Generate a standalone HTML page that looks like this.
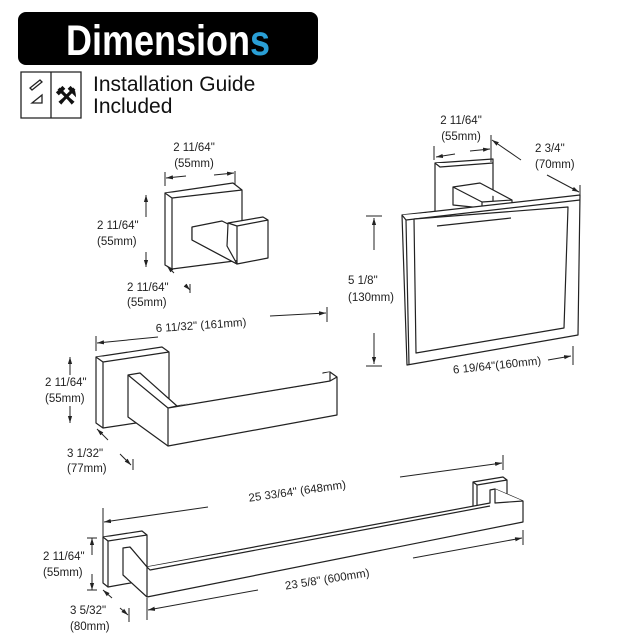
<!DOCTYPE html>
<html><head><meta charset="utf-8"><style>
html,body{margin:0;padding:0;background:#fff;}
svg{display:block;}
text{font-family:"Liberation Sans",sans-serif;font-size:11.5px;fill:#222;}
</style></head><body>
<svg width="640" height="640" viewBox="0 0 640 640" xmlns="http://www.w3.org/2000/svg">
<defs>
<marker id="a" viewBox="0 0 10 10" refX="10" refY="5" markerWidth="7" markerHeight="7" orient="auto-start-reverse"><path d="M0,2 L10,5 L0,8 z" fill="#222"/></marker>
</defs>
<!-- header -->
<rect x="18" y="12" width="300" height="53" rx="8" fill="#000"/>
<text x="168" y="55" text-anchor="middle" style="font-size:36px;font-weight:bold;fill:#fff;font-family:'Liberation Sans',sans-serif" transform="translate(168 55) scale(1.0 1.18) translate(-168 -55)">Dimension<tspan style="fill:#2a9fd6">s</tspan></text>
<!-- book icon -->
<g fill="none" stroke="#222" stroke-width="1.3">
<path d="M21,72 L51,72 L51,118 L21,118 z M51,72 L81,72 L81,118 L51,118"/>
<path d="M30,88 l10,-8 l2,2 l-10,8 z M32,103 l10,-8 l0,8 z"/>
</g>
<text x="66" y="104" text-anchor="middle" style="font-size:24px;font-weight:bold;fill:#111">⚒</text>
<text x="93" y="91" style="font-size:21px;fill:#111">Installation Guide</text>
<text x="93" y="113" style="font-size:21px;fill:#111">Included</text>

<g fill="#fff" stroke="#222" stroke-width="1.2" stroke-linejoin="round">
<!-- hook -->
<path d="M165,193 L233,183 L242,190 L242,260 L172,269 L165,265 z"/>
<path d="M165,193 L172,198 L242,190 M172,198 L172,269"/>
<path d="M192,227 L222,221 L228,224 L227,246 L237,264 L192,240 z"/>
<path d="M228,223 L263,217 L268,220 L268,258 L237,264 L237,226 z M237,226 L268,220"/>
<path d="M192,227 L192,240 L237,264"/>
<!-- toilet paper holder -->
<path d="M96,357 L162,347 L169,352 L169,418 L103,428 L96,423 z"/>
<path d="M96,357 L103,362 L169,352 M103,362 L103,428"/>
<path d="M128,375 L140,373 L177,406 L323,382 L323,373 L330,372 L337,377 L337,415 L168,446 L128,417 z"/>
<path d="M128,375 L168,408 L168,446 M168,408 L177,406 M168,408 L330,381 L330,372 M330,381 L337,377"/>
<!-- towel ring -->
<path d="M435,163 L493,159 L493,210 L435,212 z"/>
<path d="M435,163 L440,167 L493,163"/>
<path d="M453,187 L480,183 L512,200 L512,207 L482,208 L453,205 z M453,187 L482,202 L512,200 M482,202 L482,208"/>
<path d="M402,215 L580,195 L578,335 L407,365 z"/>
<path d="M402,215 L406,220 L580,200 M406,220 L409,365"/>
<path d="M414,219 L568,207 L564,328 L416,353 z"/>
<path d="M437,226 L511,218"/>
<!-- towel bar -->
<path d="M103,537 L142,531 L147,535 L147,580 L108,587 L103,583 z"/>
<path d="M103,537 L108,541 L147,535 M108,541 L108,587"/>
<path d="M473,482 L503,477 L507,480 L507,508 L477,513 L473,510 z M473,482 L477,485 L507,480 M477,485 L477,513"/>
<path d="M123,548 L130,547 L147,567 L490,503 L490,490 L495,489 L523,501 L523,522 L147,597 L123,575 z"/>
<path d="M130,547 L147,567 L147,597 M147,567 L150,570 L490,506 M495,489 L495,503 L523,501"/>
</g>

<g stroke="#222" stroke-width="1" fill="none">
<!-- hook dims -->
<path d="M165,172 L165,186 M235,171 L235,185"/>
<path d="M186,176 L166,178" marker-end="url(#a)"/><path d="M214,175 L234,173" marker-end="url(#a)"/>
<path d="M146,217 L146,195" marker-end="url(#a)"/><path d="M146,252 L146,267" marker-end="url(#a)"/>
<path d="M174,273 L167,266" marker-end="url(#a)"/><path d="M185,285 L190,290" marker-end="url(#a)"/><path d="M190,284 L190,293"/>
<!-- tp dims -->
<path d="M96,336 L96,351 M327,307 L327,322"/>
<path d="M158,337 L97,343" marker-end="url(#a)"/><path d="M270,316 L326,313" marker-end="url(#a)"/>
<path d="M70,375 L70,357" marker-end="url(#a)"/><path d="M70,406 L70,423" marker-end="url(#a)"/>
<path d="M108,440 L97,429" marker-end="url(#a)"/><path d="M120,454 L131,465" marker-end="url(#a)"/><path d="M133,459 L133,470"/>
<!-- ring dims -->
<path d="M434,146 L434,160 M491,135 L491,162"/>
<path d="M455,154 L436,157" marker-end="url(#a)"/><path d="M470,151 L490,149" marker-end="url(#a)"/>
<path d="M521,160 L492,140" marker-end="url(#a)"/><path d="M547,175 L579,192" marker-end="url(#a)"/><path d="M580,185 L580,199"/>
<path d="M366,216 L382,216 M366,366 L382,366"/>
<path d="M374,250 L374,218" marker-end="url(#a)"/><path d="M374,333 L374,364" marker-end="url(#a)"/>
<path d="M548,360 L571,356" marker-end="url(#a)"/><path d="M573,346 L573,365"/>
<!-- bar dims -->
<path d="M103,508 L103,540 M503,455 L503,470 M147,598 L147,620 M523,530 L523,545"/>
<path d="M208,507 L104,522" marker-end="url(#a)"/><path d="M400,477 L502,463" marker-end="url(#a)"/>
<path d="M258,590 L148,610" marker-end="url(#a)"/><path d="M413,558 L522,538" marker-end="url(#a)"/>
<path d="M92,555 L92,538" marker-end="url(#a)"/><path d="M92,574 L92,590" marker-end="url(#a)"/>
<path d="M87,538 L97,538 M87,590 L97,590"/>
<path d="M112,598 L103,590" marker-end="url(#a)"/><path d="M120,608 L128,615" marker-end="url(#a)"/><path d="M129,608 L129,622"/>
</g>

<!-- labels -->
<text x="194" y="151" text-anchor="middle">2 11/64"</text>
<text x="194" y="167" text-anchor="middle">(55mm)</text>
<text x="97" y="229">2 11/64"</text>
<text x="97" y="245">(55mm)</text>
<text x="127" y="291">2 11/64"</text>
<text x="127" y="306">(55mm)</text>
<text x="201" y="329" text-anchor="middle" transform="rotate(-4 201 325)">6 11/32" (161mm)</text>
<text x="45" y="386">2 11/64"</text>
<text x="45" y="402">(55mm)</text>
<text x="67" y="457">3 1/32"</text>
<text x="67" y="472">(77mm)</text>
<text x="461" y="124" text-anchor="middle">2 11/64"</text>
<text x="461" y="140" text-anchor="middle">(55mm)</text>
<text x="535" y="152">2 3/4"</text>
<text x="535" y="168">(70mm)</text>
<text x="348" y="284">5 1/8"</text>
<text x="348" y="301">(130mm)</text>
<text x="497" y="369" text-anchor="middle" transform="rotate(-6 497 365)">6 19/64"(160mm)</text>
<text x="297" y="495" text-anchor="middle" transform="rotate(-8 297 490)">25 33/64" (648mm)</text>
<text x="43" y="560">2 11/64"</text>
<text x="43" y="576">(55mm)</text>
<text x="327" y="583" text-anchor="middle" transform="rotate(-9 327 578)">23 5/8" (600mm)</text>
<text x="70" y="614">3 5/32"</text>
<text x="70" y="630">(80mm)</text>
</svg>
</body></html>
